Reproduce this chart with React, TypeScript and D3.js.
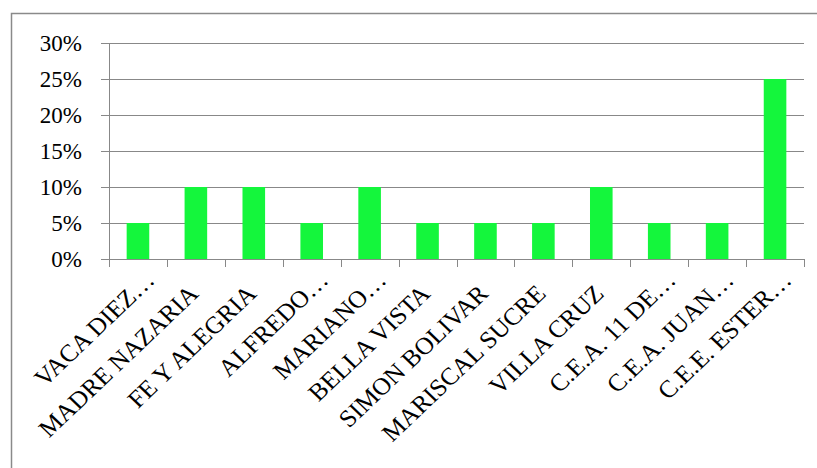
import React, { useRef, useEffect } from 'react';
import * as d3 from 'd3';

const categories = [
  'VACA DIEZ…',
  'MADRE NAZARIA',
  'FE Y ALEGRIA',
  'ALFREDO…',
  'MARIANO…',
  'BELLA VISTA',
  'SIMON BOLIVAR',
  'MARISCAL SUCRE',
  'VILLA CRUZ',
  'C.E.A. 11 DE…',
  'C.E.A. JUAN…',
  'C.E.E. ESTER…',
];
const values = [0.05, 0.1, 0.1, 0.05, 0.1, 0.05, 0.05, 0.05, 0.1, 0.05, 0.05, 0.25];
const yTicks = [0, 0.05, 0.1, 0.15, 0.2, 0.25, 0.3];

function BarChart() {
  const svgRef = useRef<SVGSVGElement>(null);

  useEffect(() => {
    const svg = d3.select(svgRef.current);
    svg.selectAll('*').remove();

    const width = 817;
    const height = 468;
    const margin = { top: 43, right: 13, bottom: 209, left: 109 };
    const font = '"Liberation Serif", "Times New Roman", serif';
    const grid = '#888888';

    // outer chart frame (right/bottom edges fall outside the picture)
    svg.append('rect')
      .attr('x', 11.5)
      .attr('y', 13.5)
      .attr('width', 900)
      .attr('height', 600)
      .attr('fill', 'none')
      .attr('stroke', '#8a8a8a')
      .attr('stroke-width', 1.5);

    const x = d3.scaleBand()
      .domain(categories)
      .range([margin.left, width - margin.right])
      .paddingInner(0.61)
      .paddingOuter(0.305);

    const xOuter = d3.scaleBand()
      .domain(categories)
      .range([margin.left, width - margin.right]);

    const y = d3.scaleLinear()
      .domain([0, 0.3])
      .range([height - margin.bottom, margin.top]);

    // gridlines + y ticks
    svg.append('g')
      .selectAll('line')
      .data(yTicks)
      .enter()
      .append('line')
      .attr('x1', margin.left - 8)
      .attr('x2', width - margin.right)
      .attr('y1', d => Math.round(y(d)) + 0.5)
      .attr('y2', d => Math.round(y(d)) + 0.5)
      .attr('stroke', grid)
      .attr('stroke-width', 1);

    svg.append('g')
      .selectAll('text')
      .data(yTicks)
      .enter()
      .append('text')
      .attr('x', 82)
      .attr('y', d => y(d))
      .attr('dy', '0.35em')
      .attr('text-anchor', 'end')
      .style('font-family', font)
      .style('font-size', '23px')
      .text(d => d3.format('.0%')(d));

    // bars
    svg.append('g')
      .selectAll('rect')
      .data(values)
      .enter()
      .append('rect')
      .attr('x', (d, i) => x(categories[i]) as number)
      .attr('y', d => y(d))
      .attr('width', x.bandwidth())
      .attr('height', d => y(0) - y(d))
      .attr('fill', '#14f63c');

    // axes lines
    svg.append('line')
      .attr('x1', margin.left + 0.5)
      .attr('x2', margin.left + 0.5)
      .attr('y1', y(0.3))
      .attr('y2', y(0) + 8)
      .attr('stroke', grid);

    const bounds = categories.map(c => xOuter(c) as number).concat([width - margin.right]);
    svg.append('g')
      .selectAll('line')
      .data(bounds)
      .enter()
      .append('line')
      .attr('x1', d => Math.round(d) + 0.5)
      .attr('x2', d => Math.round(d) + 0.5)
      .attr('y1', y(0))
      .attr('y2', y(0) + 8)
      .attr('stroke', grid);

    // category labels (slightly stretched horizontally like the source)
    svg.append('g')
      .selectAll('text')
      .data(categories)
      .enter()
      .append('text')
      .attr('transform', d => {
        const cx = (xOuter(d) as number) + xOuter.bandwidth() / 2 + 4;
        return `translate(${cx}, ${y(0) + 36}) scale(1.05, 1) rotate(-45)`;
      })
      .attr('dx', d => (d.endsWith('…') ? 19 : 0))
      .attr('text-anchor', 'end')
      .style('font-family', font)
      .style('font-size', '24.3px')
      .text(d => d);
  }, []);

  return (
    <svg
      ref={svgRef}
      width={817}
      height={468}
      style={{ position: 'absolute', left: 0, top: 0, background: '#fff' }}
    ></svg>
  );
}

export default function App() {
  return <BarChart />;
}
